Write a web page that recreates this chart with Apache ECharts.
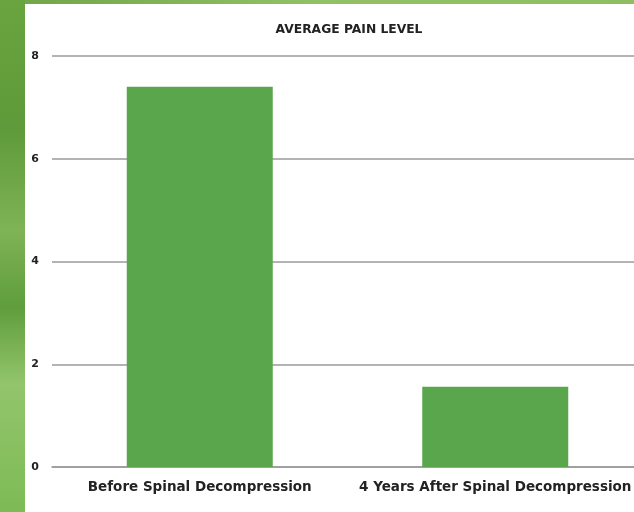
<!DOCTYPE html>
<html>
<head>
<meta charset="utf-8">
<script src="https://cdn.jsdelivr.net/npm/echarts@6/dist/echarts.min.js"></script>
<style>
html,body{margin:0;padding:0;background:#fff;}
#c{width:634px;height:512px;}
</style>
</head>
<body>
<div id="c"></div>
<script>
const titleText = 'AVERAGE PAIN LEVEL';
const categories = ['Before Spinal Decompression', '4 Years After Spinal Decompression'];
const painValues = [7.4, 1.56];
const yTicks = [0, 2, 4, 6, 8];

const chart = echarts.init(document.getElementById('c'));
chart.setOption({
  animation: false,
  backgroundColor: '#ffffff',
  graphic: [
    {
      type: 'rect', z: -10, silent: true,
      shape: {x: 0, y: 0, width: 634, height: 4},
      style: {fill: new echarts.graphic.LinearGradient(0, 0, 1, 0, [
        {offset: 0, color: '#6ea447'}, {offset: 0.5, color: '#93c067'}, {offset: 1, color: '#8fbe62'}
      ])}
    },
    {
      type: 'rect', z: -10, silent: true,
      shape: {x: 0, y: 0, width: 25, height: 512},
      style: {fill: new echarts.graphic.LinearGradient(0, 0, 0, 1, [
        {offset: 0, color: '#6aa43f'},
        {offset: 0.25, color: '#5e9a39'},
        {offset: 0.45, color: '#7fb356'},
        {offset: 0.6, color: '#5f9d3c'},
        {offset: 0.75, color: '#93c56c'},
        {offset: 1, color: '#7dbb55'}
      ])}
    }
  ],
  title: {
    text: titleText,
    left: 344, top: 19, textAlign: 'center',
    textStyle: {fontFamily: 'DejaVu Sans', fontWeight: 'bold', fontSize: 12.3, color: '#222'}
  },
  grid: {left: 52, width: 591, top: 56, bottom: 45, containLabel: false, outerBoundsMode: 'none'},
  xAxis: {
    type: 'category',
    data: categories,
    axisLine: {show: true, lineStyle: {color: '#9a9a9a', width: 1.5}},
    axisTick: {show: false},
    axisLabel: {
      interval: 0, margin: 13,
      fontFamily: 'DejaVu Sans', fontWeight: 'bold', fontSize: 13.5, color: '#222'
    }
  },
  yAxis: {
    type: 'value',
    min: 0, max: 8, interval: 2,
    axisLine: {show: false},
    axisTick: {show: false},
    splitLine: {lineStyle: {color: '#9a9a9a', width: 1.5}},
    axisLabel: {
      margin: 17, align: 'center',
      fontFamily: 'DejaVu Sans', fontWeight: 'bold', fontSize: 11, color: '#222',
      formatter: v => yTicks.includes(v) ? String(v) : ''
    }
  },
  series: [{
    type: 'bar',
    data: painValues,
    barWidth: 146,
    itemStyle: {color: '#5aa64c'}
  }]
});
</script>
</body>
</html>
